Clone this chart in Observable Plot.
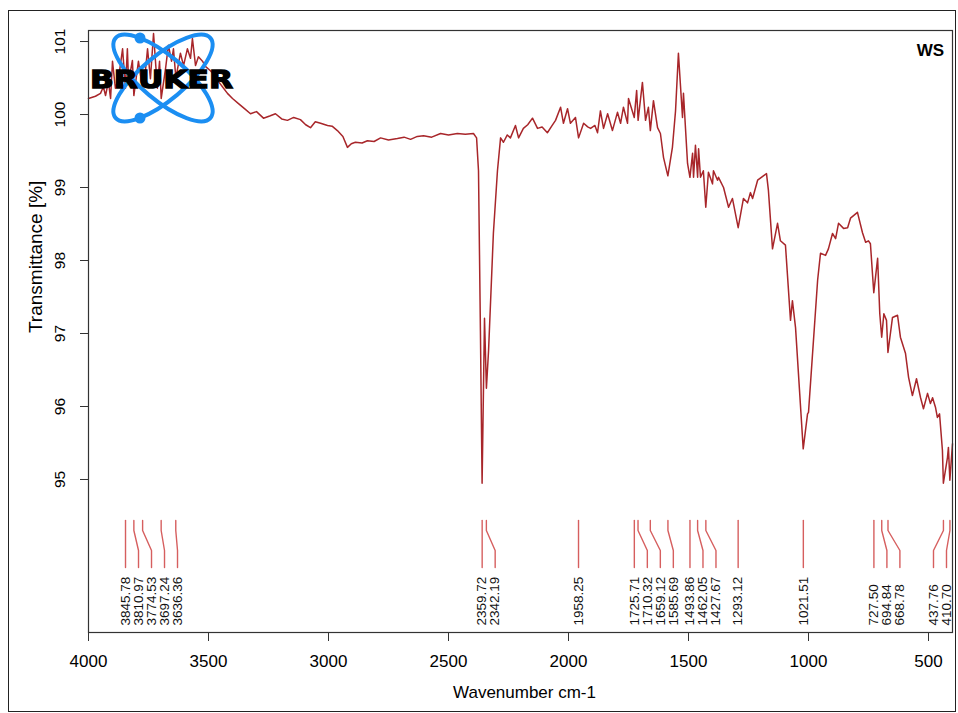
<!DOCTYPE html>
<html><head><meta charset="utf-8">
<script src="https://cdn.jsdelivr.net/npm/d3@7"></script>
<script src="https://cdn.jsdelivr.net/npm/@observablehq/plot@0.6"></script>
<style>
html,body{margin:0;padding:0;background:#fff;}
#wrap{position:relative;width:958px;height:713px;overflow:hidden;background:#fff;}
#chart{position:absolute;left:0;top:0;}
#border{position:absolute;left:8px;top:10px;width:948px;height:702px;border:1.5px solid #222;box-sizing:border-box;pointer-events:none;}
#logo{position:absolute;left:0;top:0;pointer-events:none;}
</style></head><body>
<div id="wrap">
<div id="chart"></div>
<svg id="logo" width="958" height="713">
  <g fill="none" stroke="#1b8ef2" stroke-width="4">
    <ellipse cx="163" cy="78" rx="62" ry="22" transform="rotate(40 163 78)"/>
    <ellipse cx="163" cy="78" rx="62" ry="22" transform="rotate(-40 163 78)"/>
  </g>
  <circle cx="140" cy="38" r="5.5" fill="#1b8ef2"/>
  <circle cx="140" cy="118" r="5.5" fill="#1b8ef2"/>
  <text x="161.5" y="88" text-anchor="middle" font-family="DejaVu Sans" font-weight="bold" font-size="25" textLength="143" lengthAdjust="spacingAndGlyphs" fill="#000" stroke="#000" stroke-width="1.3">BRUKER</text>
</svg>
<div id="border"></div>
</div>
<script>
// ---- data ----
const wavenumber = [4000,3971,3950,3938,3929,3917,3908,3900,3888,3875,3858,3846,3838,3833,3817,3811,3792,3775,3763,3754,3742,3729,3713,3704,3697,3679,3667,3654,3646,3636,3617,3604,3588,3575,3567,3554,3542,3525,3513,3492,3471,3458,3442,3421,3400,3375,3350,3325,3300,3271,3245,3221,3195,3171,3145,3117,3095,3075,3055,3033,3004,2985,2963,2940,2921,2905,2888,2860,2838,2810,2783,2750,2713,2685,2658,2630,2604,2570,2533,2500,2463,2430,2396,2383,2375,2367,2360,2350,2342,2333,2313,2296,2283,2271,2255,2242,2221,2208,2188,2170,2150,2129,2110,2088,2070,2054,2033,2021,2004,1992,1971,1958,1937,1920,1908,1890,1879,1867,1854,1837,1817,1796,1783,1771,1754,1750,1726,1716,1710,1692,1679,1667,1659,1646,1629,1617,1604,1586,1567,1554,1542,1525,1521,1504,1494,1483,1479,1471,1462,1458,1450,1438,1428,1417,1400,1396,1379,1375,1354,1333,1317,1293,1271,1254,1242,1233,1212,1188,1175,1167,1150,1129,1117,1096,1075,1067,1054,1022,1004,1000,962,950,929,917,900,887,875,854,837,825,796,775,762,750,742,728,712,703,695,686,675,669,650,629,617,596,583,567,550,533,521,504,492,483,471,463,454,442,438,421,417,411,400];
const transmittance = [100.22,100.25,100.29,100.38,100.26,100.45,100.22,100.73,100.36,100.49,100.90,100.36,100.90,100.45,100.74,100.26,100.73,100.36,100.59,100.90,100.49,101.11,100.36,100.73,100.22,100.63,100.95,100.73,100.90,100.50,100.84,100.67,100.90,100.77,101.04,100.67,100.79,100.73,100.66,100.60,100.52,100.45,100.38,100.29,100.22,100.15,100.08,100.01,100.04,99.95,99.98,100.01,99.94,99.92,99.96,99.93,99.86,99.82,99.90,99.88,99.85,99.84,99.78,99.70,99.55,99.60,99.62,99.61,99.64,99.63,99.68,99.65,99.67,99.69,99.66,99.70,99.71,99.69,99.74,99.72,99.74,99.73,99.74,99.68,99.23,97.04,94.95,97.21,96.25,96.77,98.37,99.23,99.68,99.62,99.72,99.68,99.85,99.68,99.81,99.86,99.95,99.81,99.83,99.75,99.84,99.92,100.10,99.88,100.08,99.88,99.96,99.68,99.88,99.83,99.81,99.85,99.75,100.05,99.81,100.01,99.78,100.03,99.88,100.10,99.88,100.22,99.96,100.33,99.92,100.44,99.92,100.10,99.78,100.19,99.82,99.74,99.41,99.16,99.55,100.05,100.84,99.96,100.29,99.33,99.14,99.47,99.14,99.58,99.14,99.53,99.14,99.23,98.73,99.21,99.05,99.23,99.10,99.14,99.00,98.73,98.85,98.45,98.85,98.79,98.93,98.85,99.10,99.16,99.19,98.96,98.16,98.51,98.27,98.21,97.18,97.45,97.08,95.42,95.90,95.92,97.73,98.10,98.07,98.16,98.37,98.30,98.51,98.44,98.45,98.58,98.66,98.38,98.25,98.27,98.23,97.56,98.03,97.27,96.95,97.27,97.18,96.74,97.22,97.25,96.95,96.73,96.40,96.15,96.38,96.12,95.97,96.18,96.04,96.12,95.99,95.85,95.90,95.40,94.95,95.30,95.44,94.99,95.49];
const peakWavenumbers = [3845.78,3810.97,3774.53,3697.24,3636.36,2359.72,2342.19,1958.25,1725.71,1710.32,1659.12,1585.69,1493.86,1462.05,1427.67,1293.12,1021.51,727.50,694.84,668.78,437.76,410.70];
const xTicks = [4000,3500,3000,2500,2000,1500,1000,500];
const yTicks = [95,96,97,98,99,100,101];
const xTitle = "Wavenumber cm-1";
const yTitle = "Transmittance [%]";
const sampleName = "WS";

// ---- layout ----
const W = 958, H = 713, mL = 88, mR = 6, mT = 30, mB = 81;
const xDomain = [4000, 400], yDomain = [92.904, 101.151];
const xs = d3.scaleLinear(xDomain, [mL, W - mR]);
const ys = d3.scaleLinear(yDomain, [H - mB, mT]);

const spectrum = wavenumber.map((w, i) => ({w, t: transmittance[i]}));

// peak label layout (leader lines with simple repel)
const peaks = peakWavenumbers.map(w => ({w, top: xs(w)})).sort((a, b) => a.top - b.top);
const gap = 13, maxX = W - mR - 6;
const bx = peaks.map(p => p.top);
for (let i = 1; i < bx.length; i++) bx[i] = Math.max(bx[i], bx[i - 1] + gap);
bx[bx.length - 1] = Math.min(bx[bx.length - 1], maxX);
for (let i = bx.length - 2; i >= 0; i--) bx[i] = Math.min(bx[i], bx[i + 1] - gap);
const yA = ys.invert(520), yB = ys.invert(530), yC = ys.invert(550), yD = ys.invert(567), yL = ys.invert(625);
const leaders = [];
peaks.forEach((p, i) => {
  const xb = xs.invert(bx[i]);
  leaders.push({id: i, x: p.w, y: yA}, {id: i, x: p.w, y: yB}, {id: i, x: xb, y: yC}, {id: i, x: xb, y: yD});
  p.xb = xb;
  p.label = p.w.toFixed(2);
});
const yTitleAt = (d3.min(transmittance) + yDomain[1]) / 2;

const chart = Plot.plot({
  width: W, height: H,
  marginLeft: mL, marginRight: mR, marginTop: mT, marginBottom: mB,
  style: {fontFamily: "'Liberation Sans', Arial, sans-serif", background: "white", color: "black", overflow: "visible"},
  x: {domain: xDomain},
  y: {domain: yDomain},
  marks: [
    Plot.axisX({ticks: xTicks, tickSize: 9, tickPadding: 13, fontSize: 17, tickFormat: d => String(d), label: null, stroke: "#333"}),
    Plot.axisY({ticks: yTicks, tickSize: 8, tickFormat: () => "", label: null, stroke: "#333"}),
    Plot.text(yTicks, {y: d => d, text: d => String(d), frameAnchor: "left", dx: -28, rotate: -90, fontSize: 15.5, textAnchor: "middle", lineAnchor: "middle"}),
    Plot.text([yTitle], {y: () => yTitleAt, text: d => d, frameAnchor: "left", dx: -53, rotate: -90, fontSize: 19, textAnchor: "middle", lineAnchor: "middle"}),
    Plot.text([xTitle], {text: d => d, frameAnchor: "bottom", dx: 4, dy: 60, fontSize: 17, textAnchor: "middle", lineAnchor: "middle"}),
    Plot.text([sampleName], {text: d => d, frameAnchor: "top-right", dx: -22, dy: 20, fontSize: 17, fontWeight: "bold", textAnchor: "middle", lineAnchor: "middle"}),
    Plot.line(leaders, {x: "x", y: "y", z: "id", stroke: "#d65f5f", strokeWidth: 1.4}),
    Plot.text(peaks, {x: "xb", y: () => yL, text: "label", rotate: -90, textAnchor: "start", lineAnchor: "middle", fontSize: 13.5, fill: "#111"}),
    Plot.line(spectrum, {x: "w", y: "t", stroke: "#a8262a", strokeWidth: 1.5}),
    Plot.frame({stroke: "#333", strokeWidth: 1.2})
  ]
});
document.getElementById("chart").appendChild(chart);
</script>
</body></html>
